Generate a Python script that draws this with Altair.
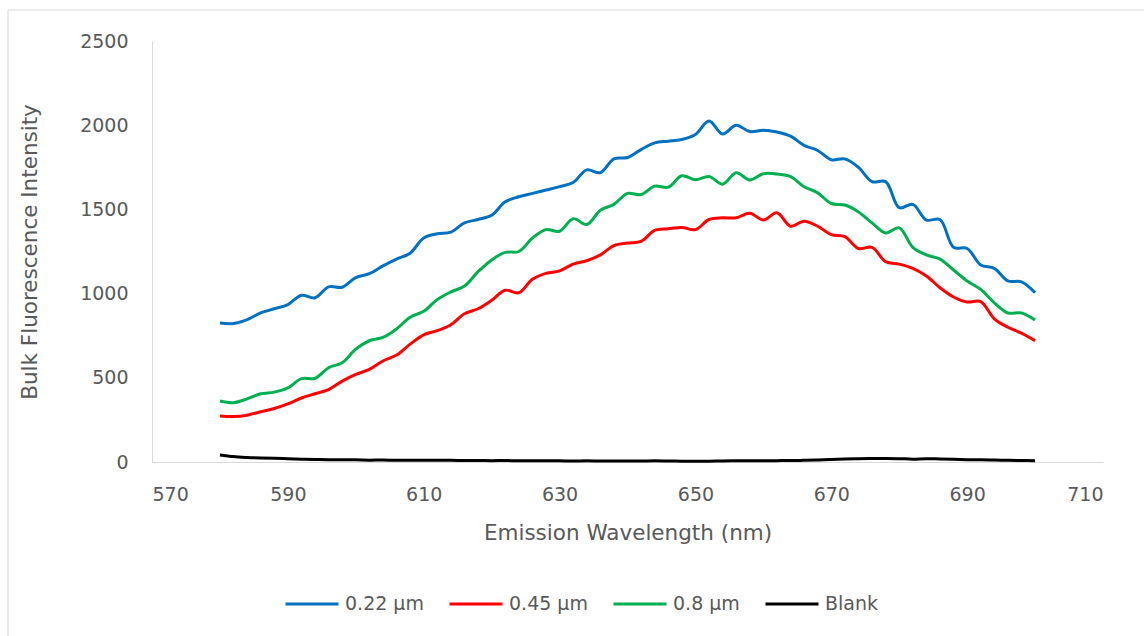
import altair as alt
import pandas as pd

wavelength = list(range(580, 701, 2))

s022 = [825, 822, 845, 885, 910, 935, 990, 975, 1040, 1038,
        1095, 1118, 1165, 1205, 1240, 1330, 1355, 1365, 1420, 1440,
        1465, 1545, 1575, 1595, 1615, 1635, 1660, 1735, 1718, 1800,
        1808, 1855, 1895, 1905, 1915, 1945, 2025, 1948, 2000, 1962,
        1970, 1960, 1935, 1880, 1850, 1795, 1800, 1750, 1665, 1665,
        1510, 1530, 1437, 1440, 1275, 1268, 1170, 1150, 1075, 1070,
        1005]

s045 = [273, 270, 278, 298, 318, 345, 380, 405, 430, 480,
        520, 550, 600, 635, 700, 755, 780, 815, 880, 910,
        960, 1020, 1005, 1085, 1120, 1135, 1175, 1195, 1230, 1285,
        1300, 1310, 1375, 1385, 1393, 1380, 1440, 1450, 1450, 1477,
        1437, 1480, 1400, 1430, 1400, 1350, 1338, 1268, 1275, 1190,
        1175, 1150, 1105, 1035, 980, 950, 952, 850, 800, 765,
        720]

s08 = [362, 352, 375, 405, 415, 440, 495, 497, 560, 590,
       670, 720, 740, 790, 860, 895, 965, 1010, 1045, 1130,
       1200, 1245, 1250, 1330, 1380, 1370, 1445, 1410, 1495, 1530,
       1595, 1588, 1638, 1632, 1700, 1676, 1695, 1650, 1718, 1675,
       1712, 1710, 1695, 1635, 1598, 1535, 1526, 1485, 1420, 1360,
       1390, 1275, 1230, 1205, 1140, 1075, 1025, 945, 885, 885,
       843]

blank = [42, 32, 27, 24, 22, 20, 17, 15, 14, 13,
         13, 11, 12, 10, 10, 10, 10, 10, 9, 9,
         8, 9, 7, 8, 7, 7, 6, 7, 6, 6,
         6, 6, 7, 6, 5, 4, 5, 6, 7, 7,
         8, 8, 9, 10, 12, 15, 18, 20, 21, 21,
         20, 17, 20, 18, 16, 14, 13, 12, 10, 9,
         8]

series_names = ["0.22 µm", "0.45 µm", "0.8 µm", "Blank"]
series_colors = ["#0070C0", "#FF0000", "#00B050", "#000000"]

rows = []
for name, vals in zip(series_names, [s022, s045, s08, blank]):
    for w, v in zip(wavelength, vals):
        rows.append({"wl": w, "val": v, "series": name})
df = pd.DataFrame(rows)

FONT = "DejaVu Sans"
GRAY = "#595959"

lines = alt.Chart(df).mark_line(strokeWidth=3, interpolate="catmull-rom").encode(
    x=alt.X("wl:Q",
            scale=alt.Scale(domain=[570, 710], nice=False, zero=False),
            axis=alt.Axis(values=[570, 590, 610, 630, 650, 670, 690, 710],
                          format="d",
                          title="Emission Wavelength (nm)", grid=False,
                          ticks=False, tickSize=0, labelPadding=23,
                          titlePadding=18)),
    y=alt.Y("val:Q",
            scale=alt.Scale(domain=[0, 2500], nice=False),
            axis=alt.Axis(values=[0, 500, 1000, 1500, 2000, 2500],
                          format="d",
                          title="Bulk Fluorescence Intensity", grid=False,
                          ticks=False, tickSize=0, labelPadding=24,
                          titlePadding=38)),
    color=alt.Color("series:N",
                    scale=alt.Scale(domain=series_names, range=series_colors),
                    legend=alt.Legend(title=None, orient="none", direction="horizontal",
                                      legendX=132, legendY=535,
                                      symbolType="stroke", symbolSize=2809,
                                      symbolStrokeWidth=3, labelOffset=5,
                                      columnPadding=19, padding=0,
                                      labelFontSize=19, labelFont=FONT,
                                      labelColor=GRAY)),
    detail="series:N",
)

border = alt.Chart(pd.DataFrame({"k": [0]})).mark_rule(color="#d9d9d9", strokeWidth=1).encode(
    x=alt.value(8 - 152), y=alt.value(10 - 41), y2=alt.value(636 - 41)
)
border_top = alt.Chart(pd.DataFrame({"k": [0]})).mark_rule(color="#d9d9d9", strokeWidth=1).encode(
    x=alt.value(8 - 152), x2=alt.value(1144 - 152), y=alt.value(10 - 41)
)

chart = alt.layer(border, border_top, lines).properties(
    width=951, height=421,
    autosize=alt.AutoSizeParams(type="none"),
    padding={"left": 152, "top": 41, "right": 41, "bottom": 174},
    background="white",
).configure_view(stroke=None).configure_axis(
    domainColor="#d9d9d9", domainWidth=1,
    labelFont=FONT, labelFontSize=19, labelColor=GRAY,
    titleFont=FONT, titleFontSize=21.5, titleColor=GRAY, titleFontWeight="normal",
)

chart.save("out.html", embed_options={"renderer": "svg", "actions": False})
